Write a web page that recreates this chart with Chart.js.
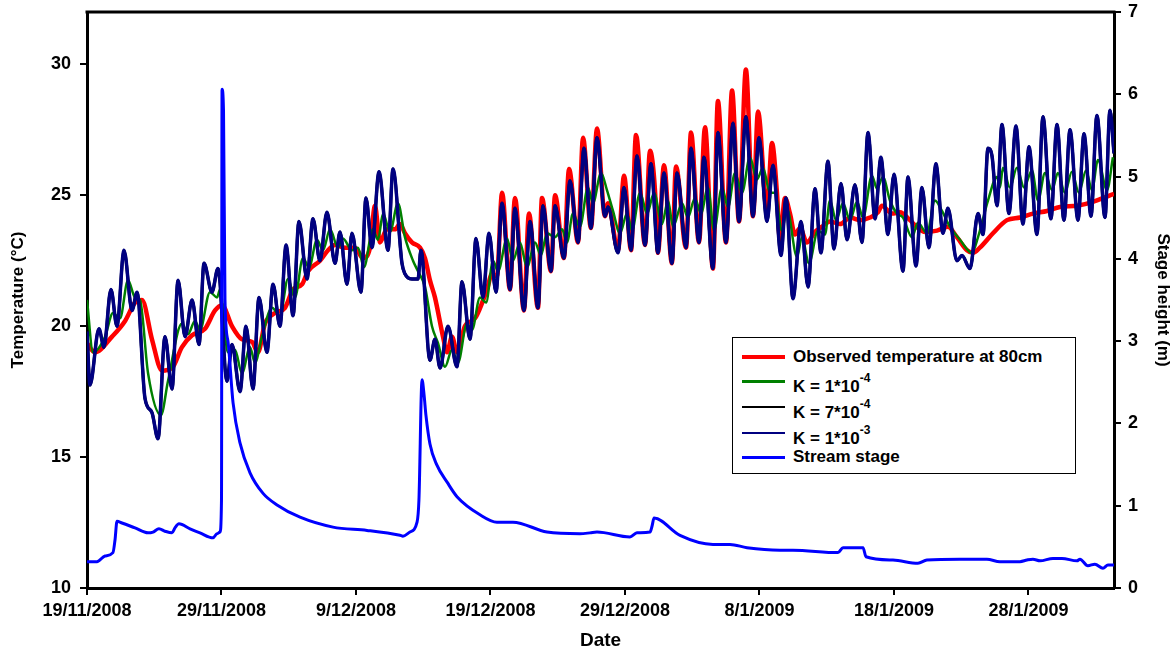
<!DOCTYPE html>
<html>
<head>
<meta charset="utf-8">
<script src="https://cdn.jsdelivr.net/npm/chart.js@4.4.1/dist/chart.umd.min.js"></script>
<style>
  html, body { margin: 0; padding: 0; background: #fff; }
  #wrap { position: relative; width: 1176px; height: 652px; font-family: "Liberation Sans", Arial, sans-serif; font-weight: bold; }
  #legend { position: absolute; left: 732px; top: 337px; width: 342px; height: 135px; border: 1.5px solid #000; background: #fff; }
  .row { position: absolute; left: 0; height: 22px; line-height: 22px; font-size: 17px; color: #000; white-space: nowrap; }
  .row .swatch { position: absolute; left: 9px; width: 43px; top: 50%; }
  .row .label { position: absolute; left: 60px; top: 0; }
  .row sup { font-size: 12px; position: relative; top: -3px; }
</style>
</head>
<body>
<div id="wrap">
  <canvas id="chart" width="1176" height="652"></canvas>
  <div id="legend"></div>
</div>
<script>
// x axis = days since 19/11/2008
const dateTicks = ["19/11/2008", "29/11/2008", "9/12/2008", "19/12/2008", "29/12/2008", "8/1/2009", "18/1/2009", "28/1/2009"];

// observed temperature at 80cm [day, °C]
const observed = [[0,19.35],[0.59,19.0],[1.86,19.6],[2.83,20.2],[3.57,20.9],[4.09,21.0],[4.83,19.5],[5.58,18.3],[6.32,18.4],[7.06,19.2],[7.81,19.65],[8.77,19.9],[9.52,20.6],[10.04,20.8],[10.78,20.0],[11.52,19.5],[12.27,19.4],[12.71,19.0],[13.23,20.1],[13.98,20.5],[14.72,20.7],[15.32,21.4],[15.99,21.6],[16.43,22.1],[17.32,22.5],[17.92,22.9],[18.44,23.1],[19.18,23.0],[19.93,23.0],[20.52,22.6],[21.04,23.0],[21.41,24.6],[21.78,23.2],[22.30,23.7],[22.90,23.7],[23.27,23.9],[23.64,23.55],[24.16,23.2],[24.76,23.0],[25.13,22.6],[25.50,21.75],[25.87,21.1],[26.47,19.6],[26.77,19.0],[27.14,19.6],[27.51,19.0],[28.10,20.0],[28.85,20.3],[29.74,21.4],[30.11,22.0],[30.48,21.9],[30.86,25.1],[31.45,21.4],[31.82,24.9],[32.49,20.6],[32.86,24.3],[33.53,20.7],[33.83,24.9],[34.50,22.1],[34.80,25.0],[35.46,22.6],[35.84,26.0],[36.51,23.2],[36.88,27.2],[37.47,23.75],[37.92,27.55],[38.51,24.2],[38.74,24.7],[39.48,22.9],[39.93,25.75],[40.45,22.9],[40.82,27.3],[41.49,23.1],[41.86,26.7],[42.23,25.2],[42.45,22.8],[42.90,26.15],[43.49,22.4],[43.79,26.1],[44.54,23.0],[44.91,27.4],[45.50,23.2],[45.95,27.6],[46.54,22.2],[46.91,28.6],[47.51,23.2],[47.96,29.0],[48.48,24.0],[48.99,29.8],[49.52,24.2],[49.89,28.2],[50.56,24.4],[50.93,27.0],[51.30,25.1],[51.52,23.3],[51.90,24.9],[52.27,24.3],[52.64,23.5],[53.01,23.75],[53.53,23.2],[54.13,23.6],[54.65,23.8],[55.24,24.0],[55.99,23.9],[56.73,24.15],[57.47,24.05],[58.22,24.15],[58.81,24.35],[59.11,24.6],[59.85,24.3],[60.45,24.35],[61.19,24.05],[61.78,23.75],[62.30,23.6],[63.20,23.65],[64.01,23.8],[64.68,23.4],[65.43,22.9],[65.87,22.8],[66.39,23.0],[67.36,23.55],[68.40,24.05],[69.37,24.15],[70.33,24.3],[71.38,24.4],[72.34,24.55],[73.61,24.6],[74.80,24.75],[76.06,25.0],[76.36,25.05]];

// K = 1*10^-4
const k1e4 = [[0,21.0],[0.45,19.0],[1.34,19.6],[1.93,20.5],[2.45,20.3],[3.05,21.75],[3.57,21.1],[3.94,21.0],[4.54,18.2],[5.50,16.6],[6.02,17.9],[7.06,20.1],[7.51,19.7],[8.03,20.2],[8.40,19.85],[9.14,21.3],[9.67,21.1],[9.89,21.4],[10.48,19.0],[11.00,19.1],[11.52,18.2],[12.12,19.2],[12.49,18.6],[13.01,19.6],[13.75,20.7],[14.35,20.4],[14.94,21.8],[15.46,21.1],[16.06,22.6],[16.51,22.25],[17.10,23.3],[17.55,22.9],[18.07,23.7],[18.66,23.0],[19.03,23.35],[19.70,22.9],[20.15,23.0],[20.59,22.25],[21.26,23.7],[21.64,23.3],[22.01,24.3],[22.53,23.6],[23.12,24.7],[23.64,23.4],[24.24,22.5],[24.61,22.1],[25.13,21.5],[25.65,20.0],[26.10,19.35],[26.62,18.45],[27.14,19.1],[27.58,18.6],[28.25,20.1],[28.62,19.85],[29.22,21.1],[29.67,20.9],[30.19,22.5],[30.56,22.1],[31.23,23.35],[31.67,22.5],[32.19,23.2],[32.71,22.25],[33.31,23.2],[33.75,22.7],[34.20,23.55],[34.80,23.4],[35.32,23.7],[35.69,23.2],[36.13,24.3],[36.65,23.8],[37.25,25.3],[37.62,24.7],[38.22,25.85],[38.66,25.2],[39.11,24.4],[39.63,23.55],[40.15,24.3],[40.52,23.65],[41.12,25.1],[41.64,24.3],[42.16,25.1],[42.75,23.9],[43.20,24.8],[43.57,23.8],[44.24,24.7],[44.68,24.15],[45.20,24.9],[45.65,24.3],[46.17,25.3],[46.62,23.65],[47.21,25.3],[47.66,24.55],[48.18,25.85],[48.70,25.1],[49.29,26.45],[49.81,25.6],[50.26,26.05],[50.78,25.1],[51.15,25.1],[51.67,23.65],[52.04,24.5],[52.79,22.65],[53.16,23.4],[53.68,22.4],[54.35,23.65],[54.87,23.5],[55.24,24.8],[55.69,24.05],[56.21,24.7],[56.73,24.05],[57.25,24.75],[57.70,24.15],[58.36,25.75],[58.74,25.25],[59.18,25.7],[59.70,24.8],[60.22,24.3],[60.67,24.15],[61.34,23.4],[61.78,23.95],[62.45,23.55],[63.05,24.8],[63.57,24.4],[64.16,23.8],[64.91,23.3],[65.80,22.8],[66.25,23.4],[66.99,24.8],[67.66,25.7],[67.88,25.3],[68.10,26.05],[68.62,25.3],[69.14,26.05],[69.67,25.3],[70.26,25.95],[70.71,24.8],[71.23,25.85],[71.75,25.2],[72.19,25.85],[72.71,25.1],[73.23,25.9],[73.75,25.1],[74.28,25.95],[74.72,25.2],[75.17,26.35],[75.84,25.2],[76.28,26.45]];

// K = 1*10^-3 (K = 7*10^-4 lies underneath it)
const k1e3 = [[0,19.8],[0.22,17.75],[0.89,19.9],[1.26,19.2],[1.78,21.4],[2.23,20.0],[2.75,22.9],[3.35,20.6],[3.72,21.3],[4.31,17.25],[4.83,16.7],[5.28,15.7],[5.80,19.6],[6.32,17.6],[6.77,21.75],[7.29,19.6],[7.81,21.0],[8.33,19.3],[8.70,22.4],[9.29,21.3],[9.74,22.2],[10.41,17.9],[10.78,19.3],[11.38,17.5],[11.82,20.0],[12.34,17.6],[12.79,21.1],[13.38,19.0],[13.83,21.6],[14.35,20.0],[14.80,23.1],[15.32,20.4],[15.76,24.0],[16.36,21.8],[16.80,24.1],[17.32,22.5],[17.84,24.35],[18.44,22.4],[18.81,23.6],[19.33,21.6],[19.70,23.55],[20.37,21.3],[20.74,24.9],[21.19,23.0],[21.71,25.9],[22.38,22.9],[22.75,26.0],[23.42,22.4],[23.64,22.0],[24.16,21.8],[24.61,21.8],[24.83,22.9],[25.50,18.7],[25.87,19.5],[26.25,18.4],[26.84,20.0],[27.51,18.45],[27.88,21.7],[28.48,19.5],[28.92,23.35],[29.44,21.1],[29.89,23.55],[30.41,21.3],[30.86,24.7],[31.45,21.4],[31.82,24.5],[32.49,20.6],[32.94,24.0],[33.53,20.7],[33.90,24.6],[34.50,22.1],[34.80,24.6],[35.46,22.6],[35.91,25.55],[36.51,23.2],[36.95,26.8],[37.47,23.75],[37.92,27.2],[38.51,24.2],[38.74,24.55],[39.48,22.8],[39.93,25.3],[40.45,22.9],[40.89,26.5],[41.49,23.1],[41.93,26.2],[42.45,22.8],[42.90,25.85],[43.49,22.4],[43.87,25.85],[44.54,23.0],[44.91,26.8],[45.50,23.2],[45.87,26.45],[46.54,22.2],[46.91,27.4],[47.51,23.2],[48.03,27.75],[48.48,24.0],[48.99,28.0],[49.52,24.2],[49.96,27.2],[50.56,24.0],[51.00,26.15],[51.60,22.7],[51.97,24.9],[52.49,21.05],[53.09,24.0],[53.61,21.5],[54.13,25.25],[54.57,22.8],[55.09,26.3],[55.54,22.95],[56.06,25.45],[56.51,23.3],[57.10,25.4],[57.62,23.2],[58.07,27.4],[58.59,24.1],[59.03,26.45],[59.55,23.5],[60.00,25.8],[60.67,22.1],[61.04,25.7],[61.64,22.3],[62.08,25.3],[62.60,23.0],[63.12,26.2],[63.64,23.55],[64.01,24.5],[64.68,22.5],[65.06,22.7],[65.65,22.2],[66.25,24.3],[66.62,23.5],[66.99,26.8],[67.29,26.5],[67.66,24.6],[68.03,27.7],[68.55,24.3],[69.07,27.65],[69.59,23.9],[70.04,26.85],[70.63,23.5],[71.08,28.0],[71.67,24.1],[72.12,27.7],[72.64,24.05],[73.09,27.5],[73.68,24.05],[74.13,27.35],[74.65,24.2],[75.09,28.05],[75.69,24.15],[76.06,28.25],[76.36,26.6]];

// stream stage [day, m]
const stage = [[0,0.32],[0.74,0.32],[1.34,0.39],[1.93,0.43],[2.08,0.58],[2.23,0.81],[2.60,0.79],[3.57,0.73],[4.54,0.67],[4.91,0.68],[5.35,0.72],[5.80,0.69],[6.32,0.67],[6.54,0.73],[6.84,0.78],[7.66,0.72],[8.40,0.67],[9.37,0.61],[9.67,0.66],[9.89,0.68],[10.0,1.07],[10.04,6.06],[10.15,5.8],[10.26,3.5],[10.48,3.0],[10.86,2.25],[11.38,1.76],[12.12,1.40],[13.09,1.15],[14.13,1.01],[15.84,0.86],[18.29,0.74],[20.82,0.70],[23.27,0.64],[23.49,0.63],[24.01,0.68],[24.54,0.80],[24.68,1.07],[24.91,2.53],[25.06,2.35],[25.2,2.1],[25.5,1.75],[26.0,1.5],[26.8,1.28],[27.51,1.11],[29.22,0.89],[30.48,0.80],[31.67,0.80],[34.20,0.68],[36.65,0.66],[37.40,0.67],[37.92,0.68],[40.37,0.62],[40.89,0.67],[41.86,0.68],[42.01,0.75],[42.16,0.85],[44.09,0.64],[46.54,0.53],[47.81,0.53],[49.07,0.49],[51.52,0.46],[52.49,0.46],[55.84,0.43],[56.21,0.49],[57.70,0.49],[57.92,0.38],[59.93,0.34],[61.78,0.30],[62.45,0.34],[64.91,0.35],[66.91,0.35],[67.88,0.32],[69.37,0.32],[69.89,0.34],[70.33,0.35],[70.86,0.33],[71.82,0.36],[72.49,0.36],[73.61,0.33],[73.83,0.35],[74.42,0.27],[74.94,0.29],[75.54,0.24],[75.91,0.28],[76.36,0.28]];

const legendItems = [
  { label: "Observed temperature at 80cm", color: "#ff0000", width: 4 },
  { label: "K = 1*10<sup>-4</sup>", color: "#008000", width: 3 },
  { label: "K = 7*10<sup>-4</sup>", color: "#000000", width: 2.5 },
  { label: "K = 1*10<sup>-3</sup>", color: "#000080", width: 2.5 },
  { label: "Stream stage", color: "#0000ff", width: 3 },
];
const legendRowTops = [8, 32, 58, 84, 108];

const toXY = arr => arr.map(p => ({ x: p[0], y: p[1] }));
const FONT = "'Liberation Sans', Arial, sans-serif";
const tickFont = { family: FONT, size: 18, weight: "bold" };

function lineSet(label, data, color, width, axis) {
  return {
    label, data: toXY(data), yAxisID: axis,
    borderColor: color, backgroundColor: color, borderWidth: width,
    pointRadius: 0, cubicInterpolationMode: "monotone", fill: false,
  };
}

// top edge of the plot frame
const frame = {
  id: "frame",
  afterDraw(chart) {
    const { ctx, chartArea } = chart;
    ctx.save();
    ctx.strokeStyle = "#000";
    ctx.lineWidth = 3;
    ctx.beginPath();
    ctx.moveTo(chartArea.left - 1.5, chartArea.top);
    ctx.lineTo(chartArea.right + 1.5, chartArea.top);
    ctx.stroke();
    ctx.restore();
  },
};

const fitV = w => s => { s.width = w; s.paddingTop = 0; s.paddingBottom = 0; };

new Chart(document.getElementById("chart"), {
  type: "line",
  data: {
    datasets: [
      lineSet("Stream stage", stage, "#0000ff", 3, "y2"),
      lineSet("K = 1*10^-3", k1e3, "#000080", 3.5, "y"),
      lineSet("K = 7*10^-4", k1e3, "#000000", 3, "y"),
      lineSet("K = 1*10^-4", k1e4, "#008000", 2.5, "y"),
      lineSet("Observed temperature at 80cm", observed, "#ff0000", 4.5, "y"),
    ],
  },
  options: {
    responsive: false,
    animation: false,
    devicePixelRatio: 1,
    layout: { padding: { top: 12, left: 0, right: 0, bottom: 0 } },
    plugins: { legend: { display: false }, tooltip: { enabled: false } },
    scales: {
      x: {
        type: "linear", min: 0, max: 76.36,
        afterFit: s => { s.height = 64; s.paddingLeft = 0; s.paddingRight = 0; },
        border: { color: "#000", width: 3 },
        grid: { drawOnChartArea: false, drawTicks: true, tickLength: 7, color: "#000", lineWidth: 2 },
        ticks: {
          stepSize: 10, includeBounds: false, maxRotation: 0, autoSkip: false,
          color: "#000", font: tickFont, padding: 5,
          callback: v => dateTicks[Math.round(v / 10)] || "",
        },
        title: { display: true, text: "Date", color: "#000", font: { family: FONT, size: 19, weight: "bold" }, padding: 0 },
      },
      y: {
        position: "left", min: 10, max: 32,
        afterFit: fitV(87),
        border: { color: "#000", width: 3 },
        grid: { drawOnChartArea: false, drawTicks: true, tickLength: 7, color: "#000", lineWidth: 2 },
        ticks: { stepSize: 5, includeBounds: false, color: "#000", font: tickFont, padding: 9 },
        title: { display: true, text: "Temperature (°C)", color: "#000", font: { family: FONT, size: 17, weight: "bold" }, padding: 8 },
      },
      y2: {
        position: "right", min: 0, max: 7,
        afterFit: fitV(62),
        border: { color: "#000", width: 3 },
        grid: { drawOnChartArea: false, drawTicks: true, tickLength: 7, color: "#000", lineWidth: 2 },
        ticks: { stepSize: 1, color: "#000", font: tickFont, padding: 7 },
        title: { display: true, text: "Stage height (m)", color: "#000", font: { family: FONT, size: 17, weight: "bold" }, padding: 3 },
      },
    },
  },
  plugins: [frame],
});

// legend with superscripts
const legendEl = document.getElementById("legend");
legendItems.forEach((item, i) => {
  const row = document.createElement("div");
  row.className = "row";
  row.style.top = legendRowTops[i] + "px";
  row.innerHTML = '<span class="swatch" style="border-top:' + item.width + 'px solid ' + item.color +
    ';margin-top:-' + (item.width / 2) + 'px"></span><span class="label">' + item.label + "</span>";
  legendEl.appendChild(row);
});
</script>
</body>
</html>
